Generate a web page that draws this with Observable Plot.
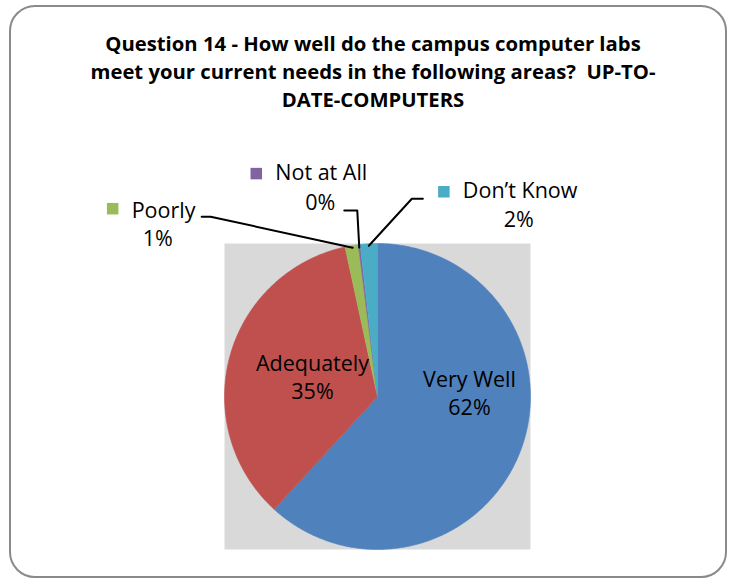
<!DOCTYPE html>
<html>
<head>
<meta charset="utf-8">
<script src="https://cdn.jsdelivr.net/npm/d3@7"></script>
<script src="https://cdn.jsdelivr.net/npm/@observablehq/plot@0.6"></script>
<style>
  html, body { margin: 0; padding: 0; background: #fff; }
  #wrap { position: relative; width: 729px; height: 580px; overflow: hidden; font-family: "Open Sans", Lato, sans-serif; }
  #border { position: absolute; left: 9px; top: 5px; width: 718px; height: 573px; box-sizing: border-box;
            border: 2px solid #8a8a8a; border-radius: 26px; }
  #title { position: absolute; left: 23px; width: 700px; top: 29px; text-align: center;
           font-weight: bold; font-size: 20.3px; line-height: 28px; color: #000; }
  #chart { position: absolute; left: 0; top: 0; }
</style>
</head>
<body>
<div id="wrap">
  <div id="border"></div>
  <div id="title">Question 14 - How well do the campus computer labs<br>meet your current needs in the following areas?&nbsp; UP-TO-<br>DATE-COMPUTERS</div>
  <div id="chart"></div>
</div>
<script>
// ---- data ----
const categories = ["Very Well", "Adequately", "Poorly", "Not at All", "Don’t Know"];
const values = [61.8, 34.8, 1.4, 0.2, 1.8];
const pctLabels = ["62%", "35%", "1%", "0%", "2%"];
const colors = ["#4F81BD", "#C0504D", "#9BBB59", "#8064A2", "#4BACC6"];

// ---- layout (pixels) ----
const W = 729, H = 580;
const R_PX = 153;             // pie radius in px (1 data unit)
const M = {top: 243, bottom: 31, left: 224, right: 199};
const fontFamily = "'Open Sans', Lato, sans-serif";
const fontSize = 21.5;
// inside labels: offsets from the pie centre (px)
const insideLayout = {
  "Very Well":  {dx: 92, dy: -4},
  "Adequately": {dx: -65, dy: -20}
};
// outside labels: offsets from the slice's outer mid point (px)
const outsideLayout = {
  "Poorly":     {mark: [-239, -37], name: [-220, -35], pct: [-194, -7], leader: [[1, 2], [-141, -29], [-150, -29]]},
  "Not at All": {mark: [-103, -71], name: [-84, -71],  pct: [-39, -41], leader: [[0, 3], [-2, -34], [-15, -34]]},
  "Don’t Know": {mark: [75, -52],   name: [94, -53],   pct: [150, -24], leader: [[0, 2], [43, -45], [54, -45]]}
};

const rows = categories.map((name, i) => ({name, value: values[i], pct: pctLabels[i]}));
const arcs = d3.pie().sort(null).value(d => d.value)(rows);

// slice polygons in data units (unit circle, y up)
const polys = [];
for (const a of arcs) {
  const n = Math.max(2, Math.ceil((a.endAngle - a.startAngle) / (Math.PI / 360)));
  polys.push({name: a.data.name, x: 0, y: 0});
  for (let i = 0; i <= n; i++) {
    const t = a.startAngle + (a.endAngle - a.startAngle) * i / n;
    polys.push({name: a.data.name, x: Math.sin(t), y: Math.cos(t)});
  }
}

const marks = [
  Plot.frame({fill: "#d9d9d9", stroke: "none"}),
  Plot.line(polys, {x: "x", y: "y", z: "name", fill: "name", stroke: "name", strokeWidth: 0.6})
];

// inside labels
for (const a of arcs) {
  const L = insideLayout[a.data.name];
  if (!L) continue;
  marks.push(Plot.text([a.data], {
    x: () => 0, y: () => 0, dx: L.dx, dy: L.dy,
    text: d => d.name + "\n" + d.pct,
    fontSize, fontFamily, fill: "#000", lineHeight: 1.3, lineAnchor: "middle", textAnchor: "middle"
  }));
}

// outside labels with leader lines
for (const a of arcs) {
  const L = outsideLayout[a.data.name];
  if (!L) continue;
  const mid = (a.startAngle + a.endAngle) / 2;
  const ex = Math.sin(mid), ey = Math.cos(mid);
  const leader = L.leader.map(([px, py]) => ({x: ex + px / R_PX, y: ey - py / R_PX}));
  marks.push(Plot.line(leader, {x: "x", y: "y", stroke: "#000", strokeWidth: 2}));
  const anchor = [{...a.data, x: ex, y: ey}];
  marks.push(Plot.dot(anchor, {x: "x", y: "y", dx: L.mark[0], dy: L.mark[1], symbol: "square", r: 6.5, fill: "name", stroke: "none"}));
  marks.push(Plot.text(anchor, {x: "x", y: "y", dx: L.name[0], dy: L.name[1], text: "name", textAnchor: "start", lineAnchor: "middle", fontSize, fontFamily, fill: "#000"}));
  marks.push(Plot.text(anchor, {x: "x", y: "y", dx: L.pct[0], dy: L.pct[1], text: "pct", textAnchor: "middle", lineAnchor: "middle", fontSize, fontFamily, fill: "#000"}));
}

const chart = Plot.plot({
  width: W, height: H,
  marginTop: M.top, marginBottom: M.bottom, marginLeft: M.left, marginRight: M.right,
  x: {domain: [-1, 1], axis: null},
  y: {domain: [-1, 1], axis: null},
  color: {domain: categories, range: colors},
  style: {background: "transparent", overflow: "visible"},
  marks
});
document.getElementById("chart").appendChild(chart);
</script>
</body>
</html>
